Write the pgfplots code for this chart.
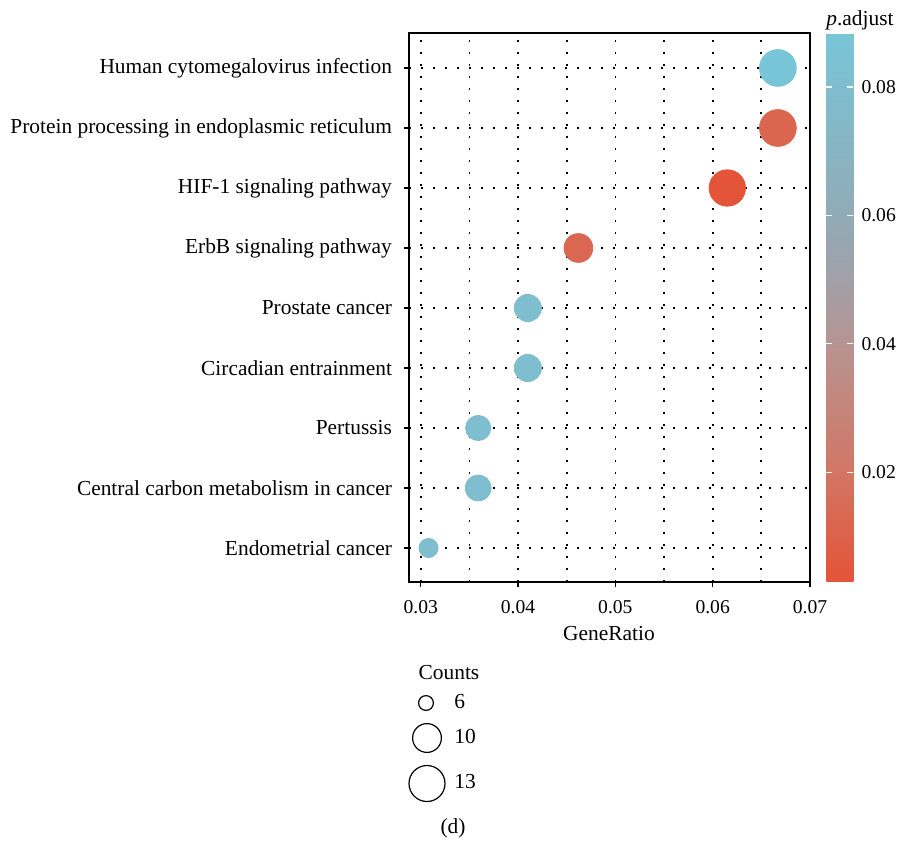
\documentclass[border=0pt]{standalone}
\usepackage{fontspec}
\setmainfont{Liberation Serif}
\usepackage{pgfplots}
\pgfplotsset{compat=1.18}
\usepackage{pgfplotstable}
\pgfplotsset{/pgf/number format/assume math mode=true}

\newcommand{\labfont}{\fontsize{10.7pt}{12pt}\selectfont}
\newcommand{\tickfont}{\fontsize{9.8pt}{11pt}\selectfont}

\pgfplotstableread{
x y p r
0.0667 9 0.0884 9.2
0.0667 8 0.0120 9.2
0.0615 7 0.0030 9.1
0.0462 6 0.0125 7.2
0.0410 5 0.0810 6.8
0.0410 4 0.0810 6.8
0.0359 3 0.0810 6.3
0.0359 2 0.0810 6.5
0.0308 1 0.0810 4.8
}\gsea

\begin{document}
\begin{tikzpicture}
\useasboundingbox (0,0) rectangle (451pt,-421.5pt);
\begin{axis}[
  at={(204.5pt,-291pt)}, anchor=south west,
  scale only axis, width=200.5pt, height=274.5pt,
  xmin=0.02879, xmax=0.07, ymin=0.433, ymax=9.583,
  scaled ticks=false,
  xtick={0.03,0.04,0.05,0.06,0.07},
  minor xtick={0.035,0.045,0.055,0.065},
  ytick={1,2,3,4,5,6,7,8,9},
  yticklabels={Endometrial cancer, Central carbon metabolism in cancer, Pertussis, Circadian entrainment, Prostate cancer, ErbB signaling pathway, HIF-1 signaling pathway, Protein processing in endoplasmic reticulum, Human cytomegalovirus infection},
  tick align=outside, tick pos=left,
  major tick length=2.5pt, minor tick length=0pt,
  tick style={black, line width=0.6pt},
  axis line style={line width=0.75pt, black},
  grid=both,
  major grid style={black, line width=0.85pt, dash pattern=on 0.85pt off 5.15pt},
  minor grid style={black, line width=0.85pt, dash pattern=on 0.85pt off 5.15pt},
  xticklabel style={font=\tickfont, yshift=-3pt, /pgf/number format/fixed, /pgf/number format/precision=2, /pgf/number format/fixed zerofill},
  yticklabel style={font=\labfont, xshift=-2.5pt},
  colormap={pa}{rgb255(0)=(228,84,56) rgb255(200)=(210,118,100) rgb255(434)=(183,148,145) rgb255(550)=(162,160,168) rgb255(668)=(145,171,182) rgb255(1000)=(120,197,216)},
  point meta min=0.0029, point meta max=0.0884,
  colorbar,
  colorbar style={
    at={(parent axis.north east)}, anchor=north west, xshift=-0.3pt,
    scale only axis, width=13.5pt, height=274.5pt,
    scaled ticks=false,
    ytick={0.02,0.04,0.06,0.08},
    yticklabel pos=right, ytick pos=both,
    tick align=inside, major tick length=3pt,
    tick style={white, line width=0.6pt},
    axis line style={draw=none},
    yticklabel style={font=\tickfont, xshift=0.5pt, /pgf/number format/fixed, /pgf/number format/precision=2, /pgf/number format/fixed zerofill},
  },
]
\addplot[scatter, only marks, mark=*, point meta=explicit,
  scatter/use mapped color={draw=mapped color, fill=mapped color},
  visualization depends on={\thisrow{r} \as \rad},
  scatter/@pre marker code/.append style={/tikz/mark size=\rad pt}]
  table[x=x, y=y, meta=p] {\gsea};
\end{axis}
\begin{scope}[x=0.5pt,y=-0.5pt]
\node[anchor=base, font=\labfont, inner sep=0] at (609,640) {GeneRatio};
\node[anchor=base west, font=\labfont, inner sep=0] at (826,25) {\textit{p}.adjust};
\node[anchor=base, font=\labfont, inner sep=0] at (449,679) {Counts};
\draw[line width=0.6pt] (426,703) circle[radius=3.7pt];
\draw[line width=0.6pt] (427,738) circle[radius=7.2pt];
\draw[line width=0.6pt] (427,783.5) circle[radius=9pt];
\node[anchor=base west, font=\labfont, inner sep=0] at (454,708) {6};
\node[anchor=base west, font=\labfont, inner sep=0] at (454,743) {10};
\node[anchor=base west, font=\labfont, inner sep=0] at (454,788) {13};
\node[anchor=base, font=\labfont, inner sep=0] at (453,833) {(d)};
\end{scope}
\end{tikzpicture}
\end{document}
